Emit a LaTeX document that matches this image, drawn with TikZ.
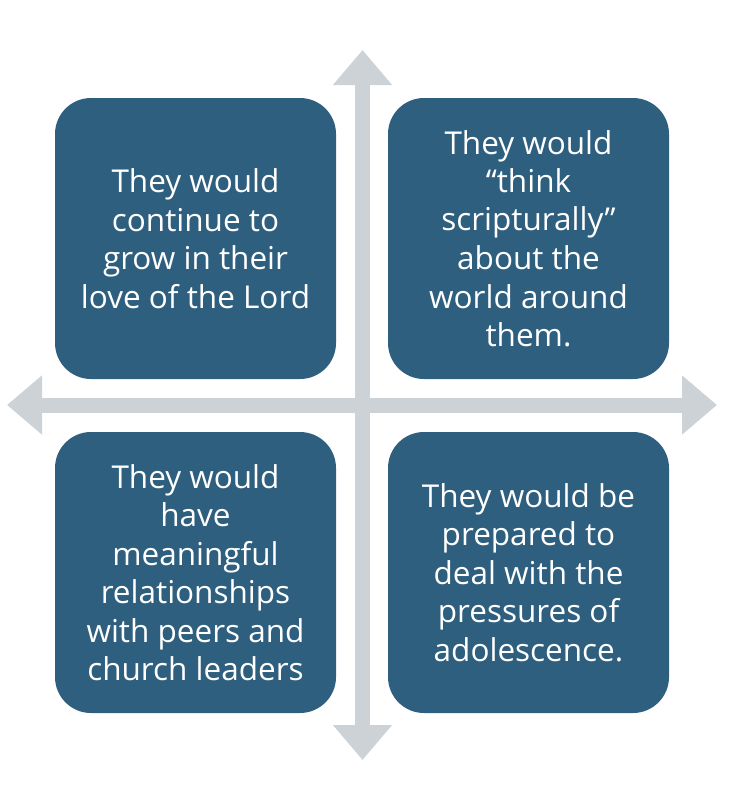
\documentclass[tikz,border=0pt]{standalone}
\usepackage{fontspec}
\setmainfont{Open Sans}
\usetikzlibrary{arrows.meta}
\definecolor{boxblue}{RGB}{46,95,126}
\definecolor{axisgray}{RGB}{205,210,215}

\begin{document}
\begin{tikzpicture}[x=1pt, y=-1pt,
		quad/.style={rectangle, rounded corners=36pt, fill=boxblue, minimum size=281pt, inner sep=0pt,
			text=white, align=center, font=\fontsize{31.5}{38.5}\selectfont},
		axis/.style={draw=axisgray, line width=15pt,
			{Triangle[width=57pt,length=35pt]}-{Triangle[width=57pt,length=35pt]}}]
			\useasboundingbox (0, 0) rectangle (738, 804);
			% axes
			\coordinate (top) at (362.5, 50);
			\coordinate (bottom) at (362.5, 760);
			\coordinate (left) at (7, 405);
			\coordinate (right) at (717, 405);
			\draw [axis] (top) -- (bottom);
			\draw [axis] (left) -- (right);
			% quadrants
			\draw (195.5, 238.5) node [quad] (tl) {They would\\continue to\\grow in their\\love of the Lord};
			\draw (528.5, 238.5) node [quad] (tr) {They would\\“think\\scripturally”\\about the\\world around\\them.};
			\draw (195.5, 572.5) node [quad] (bl) {They would\\have\\meaningful\\relationships\\with peers and\\church leaders};
			\draw (528.5, 572.5) node [quad] (br) {They would be\\prepared to\\deal with the\\pressures of\\adolescence.};
		\end{tikzpicture}
\end{document}
